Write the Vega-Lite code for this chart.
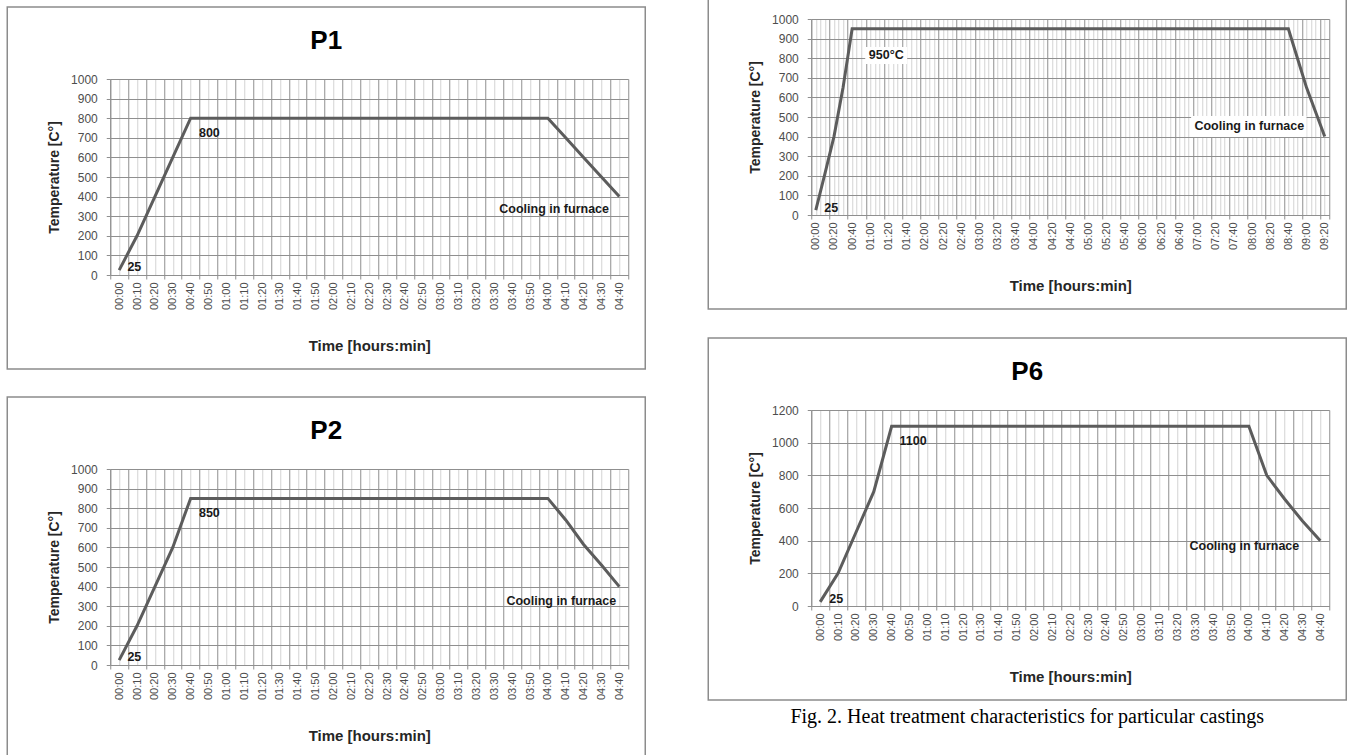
{
  "$schema": "https://vega.github.io/schema/vega-lite/v6.json",
  "background": "white",
  "padding": {"left": 6.25, "top": -82, "right": 0, "bottom": 0},
  "spacing": 61,
  "datasets": {
    "p1": [
      {"t": 0, "temp": 25}, {"t": 10, "temp": 200}, {"t": 20, "temp": 400}, {"t": 30, "temp": 600}, {"t": 40, "temp": 800},
      {"t": 50, "temp": 800}, {"t": 60, "temp": 800}, {"t": 70, "temp": 800}, {"t": 80, "temp": 800}, {"t": 90, "temp": 800},
      {"t": 100, "temp": 800}, {"t": 110, "temp": 800}, {"t": 120, "temp": 800}, {"t": 130, "temp": 800}, {"t": 140, "temp": 800},
      {"t": 150, "temp": 800}, {"t": 160, "temp": 800}, {"t": 170, "temp": 800}, {"t": 180, "temp": 800}, {"t": 190, "temp": 800},
      {"t": 200, "temp": 800}, {"t": 210, "temp": 800}, {"t": 220, "temp": 800}, {"t": 230, "temp": 800}, {"t": 240, "temp": 800},
      {"t": 250, "temp": 700}, {"t": 260, "temp": 600}, {"t": 270, "temp": 500}, {"t": 280, "temp": 400}
    ],
    "p2": [
      {"t": 0, "temp": 25}, {"t": 10, "temp": 200}, {"t": 20, "temp": 400}, {"t": 30, "temp": 600}, {"t": 40, "temp": 850},
      {"t": 50, "temp": 850}, {"t": 60, "temp": 850}, {"t": 70, "temp": 850}, {"t": 80, "temp": 850}, {"t": 90, "temp": 850},
      {"t": 100, "temp": 850}, {"t": 110, "temp": 850}, {"t": 120, "temp": 850}, {"t": 130, "temp": 850}, {"t": 140, "temp": 850},
      {"t": 150, "temp": 850}, {"t": 160, "temp": 850}, {"t": 170, "temp": 850}, {"t": 180, "temp": 850}, {"t": 190, "temp": 850},
      {"t": 200, "temp": 850}, {"t": 210, "temp": 850}, {"t": 220, "temp": 850}, {"t": 230, "temp": 850}, {"t": 240, "temp": 850},
      {"t": 250, "temp": 740}, {"t": 260, "temp": 615}, {"t": 270, "temp": 510}, {"t": 280, "temp": 400}
    ],
    "p5": [
      {"t": 0, "temp": 25}, {"t": 10, "temp": 210}, {"t": 20, "temp": 400}, {"t": 30, "temp": 650}, {"t": 40, "temp": 950},
      {"t": 50, "temp": 950}, {"t": 60, "temp": 950}, {"t": 70, "temp": 950}, {"t": 80, "temp": 950}, {"t": 90, "temp": 950},
      {"t": 100, "temp": 950}, {"t": 110, "temp": 950}, {"t": 120, "temp": 950}, {"t": 130, "temp": 950}, {"t": 140, "temp": 950},
      {"t": 150, "temp": 950}, {"t": 160, "temp": 950}, {"t": 170, "temp": 950}, {"t": 180, "temp": 950}, {"t": 190, "temp": 950},
      {"t": 200, "temp": 950}, {"t": 210, "temp": 950}, {"t": 220, "temp": 950}, {"t": 230, "temp": 950}, {"t": 240, "temp": 950},
      {"t": 250, "temp": 950}, {"t": 260, "temp": 950}, {"t": 270, "temp": 950}, {"t": 280, "temp": 950}, {"t": 290, "temp": 950},
      {"t": 300, "temp": 950}, {"t": 310, "temp": 950}, {"t": 320, "temp": 950}, {"t": 330, "temp": 950}, {"t": 340, "temp": 950},
      {"t": 350, "temp": 950}, {"t": 360, "temp": 950}, {"t": 370, "temp": 950}, {"t": 380, "temp": 950}, {"t": 390, "temp": 950},
      {"t": 400, "temp": 950}, {"t": 410, "temp": 950}, {"t": 420, "temp": 950}, {"t": 430, "temp": 950}, {"t": 440, "temp": 950},
      {"t": 450, "temp": 950}, {"t": 460, "temp": 950}, {"t": 470, "temp": 950}, {"t": 480, "temp": 950}, {"t": 490, "temp": 950},
      {"t": 500, "temp": 950}, {"t": 510, "temp": 950}, {"t": 520, "temp": 950},
      {"t": 530, "temp": 800}, {"t": 540, "temp": 650}, {"t": 550, "temp": 525}, {"t": 560, "temp": 400}
    ],
    "p6": [
      {"t": 0, "temp": 25}, {"t": 10, "temp": 200}, {"t": 20, "temp": 450}, {"t": 30, "temp": 700}, {"t": 40, "temp": 1100},
      {"t": 50, "temp": 1100}, {"t": 60, "temp": 1100}, {"t": 70, "temp": 1100}, {"t": 80, "temp": 1100}, {"t": 90, "temp": 1100},
      {"t": 100, "temp": 1100}, {"t": 110, "temp": 1100}, {"t": 120, "temp": 1100}, {"t": 130, "temp": 1100}, {"t": 140, "temp": 1100},
      {"t": 150, "temp": 1100}, {"t": 160, "temp": 1100}, {"t": 170, "temp": 1100}, {"t": 180, "temp": 1100}, {"t": 190, "temp": 1100},
      {"t": 200, "temp": 1100}, {"t": 210, "temp": 1100}, {"t": 220, "temp": 1100}, {"t": 230, "temp": 1100}, {"t": 240, "temp": 1100},
      {"t": 250, "temp": 800}, {"t": 260, "temp": 655}, {"t": 270, "temp": 520}, {"t": 280, "temp": 400}
    ]
  },
  "hconcat": [
    {
      "spacing": 26,
      "vconcat": [
        {"width": 518, "height": 62, "data": {"values": []}, "mark": {"type": "point", "opacity": 0}},
        {
          "width": 518, "height": 196,
          "title": {"text": "P1"},
          "layer": [
            {
              "data": {"values": [{"frame": "P1"}]},
              "mark": {"type": "rect", "fill": "transparent", "stroke": "#8c8c8c", "strokeWidth": 1.5},
              "encoding": {
                "x": {"datum": -62.66, "type": "quantitative", "scale": {"domain": [-5, 285], "nice": false, "zero": false}},
                "x2": {"datum": 294.52},
                "y": {"datum": 1367.35, "type": "quantitative", "scale": {"domain": [0, 1000], "nice": false}},
                "y2": {"datum": -479.59}
              }
            },
            {
              "data": {"name": "p1"},
              "mark": {"type": "line", "color": "#5c5c5c", "strokeWidth": 3, "strokeJoin": "miter"},
              "encoding": {
                "x": {"field": "t", "type": "quantitative", "scale": {"domain": [-5, 285], "nice": false, "zero": false},
                  "axis": {"title": "Time  [hours:min]", "grid": true, "tickCount": 1000,
                    "values": [-5,0,5,10,15,20,25,30,35,40,45,50,55,60,65,70,75,80,85,90,95,100,105,110,115,120,125,130,135,140,145,150,155,160,165,170,175,180,185,190,195,200,205,210,215,220,225,230,235,240,245,250,255,260,265,270,275,280,285],
                    "labelExpr": "datum.value >= 0 && datum.value % 10 === 0 ? (datum.value < 600 ? '0' : '') + floor(datum.value / 60) + ':' + (datum.value % 60 < 10 ? '0' : '') + (datum.value % 60) : ''",
                    "gridColor": {"condition": {"test": "datum.value % 10 !== 0", "value": "#8f8f8f"}, "value": "#d3d3d3"},
                    "tickOpacity": {"condition": {"test": "datum.value % 10 !== 0", "value": 1}, "value": 0}}},
                "y": {"field": "temp", "type": "quantitative", "scale": {"domain": [0, 1000], "nice": false},
                  "axis": {"title": "Temperature  [C°]", "grid": true, "tickCount": 1000, "format": "d", "values": [0,100,200,300,400,500,600,700,800,900,1000]}}
              }
            },
            {
              "data": {"values": [
                {"t": 50.5, "temp": 725, "label": "800"},
                {"t": 8.5, "temp": 40, "label": "25"},
                {"t": 243.5, "temp": 335, "label": "Cooling in furnace"}
              ]},
              "mark": {"type": "text"},
              "encoding": {
                "x": {"field": "t", "type": "quantitative", "scale": {"domain": [-5, 285], "nice": false, "zero": false}},
                "y": {"field": "temp", "type": "quantitative", "scale": {"domain": [0, 1000], "nice": false}},
                "text": {"field": "label"}
              }
            }
          ]
        },
        {
          "width": 518, "height": 196,
          "title": {"text": "P2"},
          "layer": [
            {
              "data": {"values": [{"frame": "P2"}]},
              "mark": {"type": "rect", "fill": "transparent", "stroke": "#8c8c8c", "strokeWidth": 1.5},
              "encoding": {
                "x": {"datum": -62.66, "type": "quantitative", "scale": {"domain": [-5, 285], "nice": false, "zero": false}},
                "x2": {"datum": 294.52},
                "y": {"datum": 1367.35, "type": "quantitative", "scale": {"domain": [0, 1000], "nice": false}},
                "y2": {"datum": -479.59}
              }
            },
            {
              "data": {"name": "p2"},
              "mark": {"type": "line", "color": "#5c5c5c", "strokeWidth": 3, "strokeJoin": "miter"},
              "encoding": {
                "x": {"field": "t", "type": "quantitative", "scale": {"domain": [-5, 285], "nice": false, "zero": false},
                  "axis": {"title": "Time  [hours:min]", "grid": true, "tickCount": 1000,
                    "values": [-5,0,5,10,15,20,25,30,35,40,45,50,55,60,65,70,75,80,85,90,95,100,105,110,115,120,125,130,135,140,145,150,155,160,165,170,175,180,185,190,195,200,205,210,215,220,225,230,235,240,245,250,255,260,265,270,275,280,285],
                    "labelExpr": "datum.value >= 0 && datum.value % 10 === 0 ? (datum.value < 600 ? '0' : '') + floor(datum.value / 60) + ':' + (datum.value % 60 < 10 ? '0' : '') + (datum.value % 60) : ''",
                    "gridColor": {"condition": {"test": "datum.value % 10 !== 0", "value": "#8f8f8f"}, "value": "#d3d3d3"},
                    "tickOpacity": {"condition": {"test": "datum.value % 10 !== 0", "value": 1}, "value": 0}}},
                "y": {"field": "temp", "type": "quantitative", "scale": {"domain": [0, 1000], "nice": false},
                  "axis": {"title": "Temperature  [C°]", "grid": true, "tickCount": 1000, "format": "d", "values": [0,100,200,300,400,500,600,700,800,900,1000]}}
              }
            },
            {
              "data": {"values": [
                {"t": 50.5, "temp": 775, "label": "850"},
                {"t": 8.5, "temp": 40, "label": "25"},
                {"t": 247.5, "temp": 328, "label": "Cooling in furnace"}
              ]},
              "mark": {"type": "text"},
              "encoding": {
                "x": {"field": "t", "type": "quantitative", "scale": {"domain": [-5, 285], "nice": false, "zero": false}},
                "y": {"field": "temp", "type": "quantitative", "scale": {"domain": [0, 1000], "nice": false}},
                "text": {"field": "label"}
              }
            }
          ]
        }
      ]
    },
    {
      "spacing": 27,
      "title": {"text": "Fig. 2. Heat treatment characteristics for particular castings", "orient": "bottom", "anchor": "middle", "frame": "bounds", "font": "Liberation Serif", "fontSize": 20, "fontWeight": "normal", "color": "#000000", "baseline": "middle", "offset": 16.75},
      "vconcat": [
        {"width": 518, "height": 1, "data": {"values": []}, "mark": {"type": "point", "opacity": 0}},
        {
          "width": 518, "height": 196,
          "layer": [
            {
              "data": {"values": [{"frame": "P5"}]},
              "mark": {"type": "rect", "fill": "transparent", "stroke": "#8c8c8c", "strokeWidth": 1.5},
              "encoding": {
                "x": {"datum": -118.34, "type": "quantitative", "scale": {"domain": [-5, 565], "nice": false, "zero": false}},
                "x2": {"datum": 583.71},
                "y": {"datum": 1367.35, "type": "quantitative", "scale": {"domain": [0, 1000], "nice": false}},
                "y2": {"datum": -479.59}
              }
            },
            {
              "data": {"values": [{"box": "950°C"}]},
              "mark": {"type": "rect", "fill": "white"},
              "encoding": {
                "x": {"datum": 54.4, "type": "quantitative", "scale": {"domain": [-5, 565], "nice": false, "zero": false}},
                "x2": {"datum": 100.6},
                "y": {"datum": 857, "type": "quantitative", "scale": {"domain": [0, 1000], "nice": false}},
                "y2": {"datum": 770}
              }
            },
            {
              "data": {"values": [{"box": "Cooling in furnace"}]},
              "mark": {"type": "rect", "fill": "white"},
              "encoding": {
                "x": {"datum": 413, "type": "quantitative", "scale": {"domain": [-5, 565], "nice": false, "zero": false}},
                "x2": {"datum": 540},
                "y": {"datum": 505, "type": "quantitative", "scale": {"domain": [0, 1000], "nice": false}},
                "y2": {"datum": 398}
              }
            },
            {
              "data": {"name": "p5"},
              "mark": {"type": "line", "color": "#5c5c5c", "strokeWidth": 3, "strokeJoin": "miter"},
              "encoding": {
                "x": {"field": "t", "type": "quantitative", "scale": {"domain": [-5, 565], "nice": false, "zero": false},
                  "axis": {"title": "Time  [hours:min]", "grid": true, "tickCount": 1000,
                    "values": [-5,0,5,10,15,20,25,30,35,40,45,50,55,60,65,70,75,80,85,90,95,100,105,110,115,120,125,130,135,140,145,150,155,160,165,170,175,180,185,190,195,200,205,210,215,220,225,230,235,240,245,250,255,260,265,270,275,280,285,290,295,300,305,310,315,320,325,330,335,340,345,350,355,360,365,370,375,380,385,390,395,400,405,410,415,420,425,430,435,440,445,450,455,460,465,470,475,480,485,490,495,500,505,510,515,520,525,530,535,540,545,550,555,560,565],
                    "labelExpr": "datum.value >= 0 && datum.value % 20 === 0 ? (datum.value < 600 ? '0' : '') + floor(datum.value / 60) + ':' + (datum.value % 60 < 10 ? '0' : '') + (datum.value % 60) : ''",
                    "gridColor": {"condition": {"test": "(datum.value + 5) % 20 === 0 || datum.value === 565", "value": "#8f8f8f"}, "value": "#d3d3d3"},
                    "tickOpacity": {"condition": {"test": "(datum.value + 5) % 20 === 0 || datum.value === 565", "value": 1}, "value": 0}}},
                "y": {"field": "temp", "type": "quantitative", "scale": {"domain": [0, 1000], "nice": false},
                  "axis": {"title": "Temperature  [C°]", "grid": true, "tickCount": 1000, "format": "d", "values": [0,100,200,300,400,500,600,700,800,900,1000]}}
              }
            },
            {
              "data": {"values": [
                {"t": 77.5, "temp": 816, "label": "950°C"},
                {"t": 17, "temp": 36, "label": "25"},
                {"t": 477, "temp": 454, "label": "Cooling in furnace"}
              ]},
              "mark": {"type": "text"},
              "encoding": {
                "x": {"field": "t", "type": "quantitative", "scale": {"domain": [-5, 565], "nice": false, "zero": false}},
                "y": {"field": "temp", "type": "quantitative", "scale": {"domain": [0, 1000], "nice": false}},
                "text": {"field": "label"}
              }
            }
          ]
        },
        {
          "width": 518, "height": 196,
          "title": {"text": "P6"},
          "layer": [
            {
              "data": {"values": [{"frame": "P6"}]},
              "mark": {"type": "rect", "fill": "transparent", "stroke": "#8c8c8c", "strokeWidth": 1.5},
              "encoding": {
                "x": {"datum": -62.66, "type": "quantitative", "scale": {"domain": [-5, 285], "nice": false, "zero": false}},
                "x2": {"datum": 294.52},
                "y": {"datum": 1640.82, "type": "quantitative", "scale": {"domain": [0, 1200], "nice": false}},
                "y2": {"datum": -575.51}
              }
            },
            {
              "data": {"name": "p6"},
              "mark": {"type": "line", "color": "#5c5c5c", "strokeWidth": 3, "strokeJoin": "miter"},
              "encoding": {
                "x": {"field": "t", "type": "quantitative", "scale": {"domain": [-5, 285], "nice": false, "zero": false},
                  "axis": {"title": "Time  [hours:min]", "grid": true, "tickCount": 1000,
                    "values": [-5,0,5,10,15,20,25,30,35,40,45,50,55,60,65,70,75,80,85,90,95,100,105,110,115,120,125,130,135,140,145,150,155,160,165,170,175,180,185,190,195,200,205,210,215,220,225,230,235,240,245,250,255,260,265,270,275,280,285],
                    "labelExpr": "datum.value >= 0 && datum.value % 10 === 0 ? (datum.value < 600 ? '0' : '') + floor(datum.value / 60) + ':' + (datum.value % 60 < 10 ? '0' : '') + (datum.value % 60) : ''",
                    "gridColor": {"condition": {"test": "datum.value % 10 !== 0", "value": "#8f8f8f"}, "value": "#d3d3d3"},
                    "tickOpacity": {"condition": {"test": "datum.value % 10 !== 0", "value": 1}, "value": 0}}},
                "y": {"field": "temp", "type": "quantitative", "scale": {"domain": [0, 1200], "nice": false},
                  "axis": {"title": "Temperature  [C°]", "grid": true, "tickCount": 1000, "format": "d", "values": [0,200,400,600,800,1000,1200]}}
              }
            },
            {
              "data": {"values": [
                {"t": 52, "temp": 1010, "label": "1100"},
                {"t": 9, "temp": 43, "label": "25"},
                {"t": 237.5, "temp": 367, "label": "Cooling in furnace"}
              ]},
              "mark": {"type": "text"},
              "encoding": {
                "x": {"field": "t", "type": "quantitative", "scale": {"domain": [-5, 285], "nice": false, "zero": false}},
                "y": {"field": "temp", "type": "quantitative", "scale": {"domain": [0, 1200], "nice": false}},
                "text": {"field": "label"}
              }
            }
          ]
        }
      ]
    }
  ],
  "config": {
    "view": {"stroke": null},
    "title": {"font": "Liberation Sans", "fontWeight": "bold", "fontSize": 26, "color": "#000000", "anchor": "middle", "frame": "bounds", "baseline": "middle", "offset": -47.5},
    "text": {"font": "Liberation Sans", "fontWeight": "bold", "fontSize": 12.5, "color": "#1a1a1a"},
    "axisX": {"labelAngle": 270, "labelFont": "Liberation Sans", "labelFontSize": 11, "labelColor": "#4d4d4d", "labelPadding": 3, "tickSize": 4, "tickColor": "#8f8f8f", "domainColor": "#8f8f8f", "gridWidth": 1, "labelOverlap": false, "labelBound": false, "labelFlush": false, "titleFont": "Liberation Sans", "titleFontSize": 15, "titleFontWeight": "bold", "titleColor": "#262626", "titlePadding": 29},
    "axisY": {"labelFont": "Liberation Sans", "labelFontSize": 12, "labelColor": "#4d4d4d", "labelPadding": 9, "tickSize": 4, "tickColor": "#8f8f8f", "domainColor": "#8f8f8f", "gridColor": "#8f8f8f", "gridWidth": 1, "titleFont": "Liberation Sans", "titleFontSize": 14, "titleFontWeight": "bold", "titleColor": "#262626", "titlePadding": 9}
  }
}
